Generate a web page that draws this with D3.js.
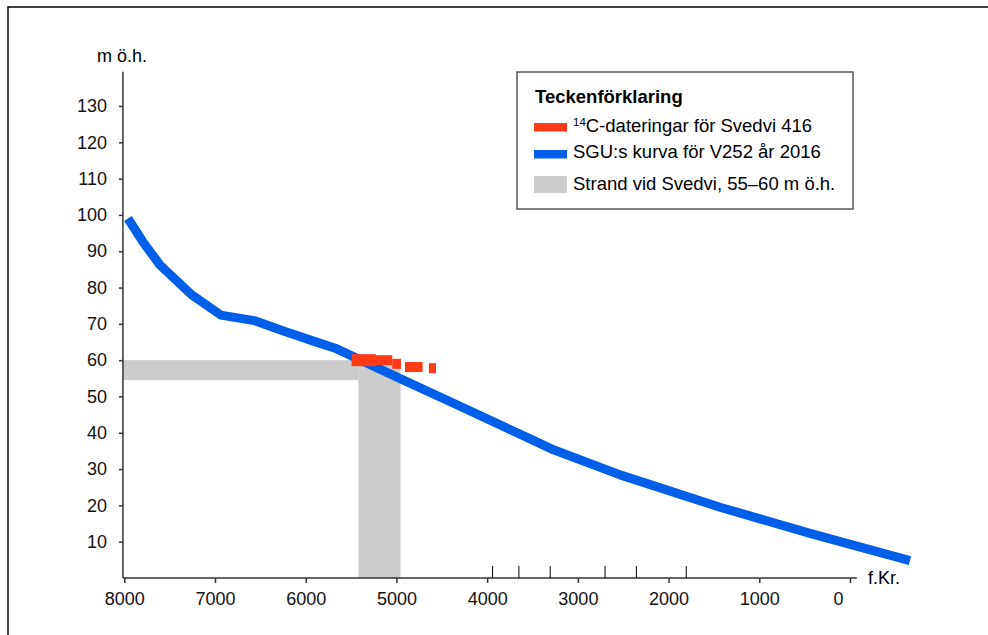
<!DOCTYPE html>
<html>
<head>
<meta charset="utf-8">
<script src="https://cdnjs.cloudflare.com/ajax/libs/d3/7.8.5/d3.min.js"></script>
<style>
  body { margin: 0; background: #fff; }
  svg { font-family: "Liberation Sans", Arial, sans-serif; }
</style>
</head>
<body>
<svg id="chart" width="988" height="635"></svg>
<script>
// SGU:s strandförskjutningskurva (år f.Kr., m ö.h.)
var curveYears  = [7960, 7795, 7607, 7258, 6935, 6568, 6229, 5898, 5675, 4959, 4298, 3526, 3269, 2534, 1433, 441, -661];
var curveLevels = [99, 92.6, 86.2, 78, 72.4, 70.9, 67.9, 65.1, 63.3, 54.9, 47.3, 38.3, 35.3, 28.4, 19.5, 12.3, 4.8];

// 14C-dateringar: start, slut, nivå
var datingFrom  = [5494, 5226, 5046, 4906, 4642];
var datingTo    = [5226, 5046, 4950, 4711, 4564];
var datingLevel = [60.0, 60.0, 59.0, 58.1, 57.8];

// strandzon
var shoreLow = 54.5, shoreHigh = 60;
var shoreFrom = 5420, shoreTo = 4955;

var xTicks = [8000, 7000, 6000, 5000, 4000, 3000, 2000, 1000, 0];
var markerYears = [3940, 3650, 3305, 2700, 2355, 1805];
var yTicks = [10, 20, 30, 40, 50, 60, 70, 80, 90, 100, 110, 120, 130];

var legendLabels = ["C-dateringar för Svedvi 416", "SGU:s kurva för V252 år 2016", "Strand vid Svedvi, 55–60 m ö.h."];

var red = "#ff3a17", blue = "#005fe8", grey = "#cccccc";

var svg = d3.select("#chart");

var x = d3.scaleLinear().domain([8000, 0]).range([124.3, 850]);
var y = d3.scaleLinear().domain([0, 130]).range([578, 106]);

// ram
svg.append("path")
    .attr("d", "M8,635 V7 H988")
    .attr("fill", "none")
    .attr("stroke", "#000")
    .attr("stroke-width", 1.5);

var g = svg.append("g");

// strand
g.append("rect")
    .attr("x", x(8015))
    .attr("y", y(shoreHigh))
    .attr("width", x(shoreFrom) - x(8015))
    .attr("height", y(shoreLow) - y(shoreHigh))
    .attr("fill", grey);

g.append("rect")
    .attr("x", x(shoreFrom))
    .attr("y", y(shoreHigh))
    .attr("width", x(shoreTo) - x(shoreFrom))
    .attr("height", y(0) - y(shoreHigh))
    .attr("fill", grey);

// kurva
var pts = curveYears.map(function(d, i) { return [d, curveLevels[i]]; });
var line = d3.line()
    .x(function(d) { return x(d[0]); })
    .y(function(d) { return y(d[1]); });

g.append("path")
    .datum(pts)
    .attr("d", line)
    .attr("fill", "none")
    .attr("stroke", blue)
    .attr("stroke-width", 9)
    .attr("stroke-linejoin", "round");

// dateringar
g.selectAll(".dating")
    .data(datingFrom)
    .enter().append("line")
    .attr("class", "dating")
    .attr("x1", function(d) { return x(d); })
    .attr("x2", function(d, i) { return x(datingTo[i]); })
    .attr("y1", function(d, i) { return y(datingLevel[i]); })
    .attr("y2", function(d, i) { return y(datingLevel[i]); })
    .attr("stroke", red)
    .attr("stroke-width", function(d, i) { return i == 0 ? 12 : 10; });

// x-axel
var xAxis = g.append("g")
    .attr("transform", "translate(0," + y(0) + ")")
    .call(d3.axisBottom(x).tickValues(xTicks).tickFormat(d3.format("d"))
        .tickSize(5).tickPadding(9).tickSizeOuter(0));
xAxis.select(".domain").attr("d", "M" + x(8015) + ",0H" + x(-75));

// nollan sitter lite till vänster om sitt streck
xAxis.selectAll(".tick text")
    .filter(function(d) { return d === 0; })
    .attr("dx", -12);

xAxis.selectAll(".marker")
    .data(markerYears)
    .enter().append("line")
    .attr("class", "marker")
    .attr("x1", function(d) { return x(d); })
    .attr("x2", function(d) { return x(d); })
    .attr("y1", 0)
    .attr("y2", -12)
    .attr("stroke", "#000");

// y-axel
var yAxis = g.append("g")
    .attr("transform", "translate(" + x(8015) + ",0)")
    .call(d3.axisLeft(y).tickValues(yTicks).tickSize(4).tickPadding(12).tickSizeOuter(0));
yAxis.select(".domain").attr("d", "M0," + y(0) + "V" + y(139.4));

svg.selectAll(".tick text")
    .attr("font-size", 18)
    .attr("font-family", "Liberation Sans, Arial, sans-serif")
    .attr("fill", "#111");
svg.selectAll(".domain, .tick line").attr("stroke", "#333").attr("stroke-width", 1.5);

svg.append("text")
    .attr("x", 122).attr("y", 62)
    .attr("text-anchor", "middle")
    .attr("font-size", 18)
    .text("m ö.h.");

svg.append("text")
    .attr("x", 868).attr("y", 584)
    .attr("font-size", 18)
    .text("f.Kr.");

// teckenförklaring
var leg = svg.append("g");
leg.append("rect")
    .attr("x", 517).attr("y", 72)
    .attr("width", 336).attr("height", 137)
    .attr("fill", "#fff")
    .attr("stroke", "#555")
    .attr("stroke-width", 1.5);

leg.append("text")
    .attr("x", 535).attr("y", 103)
    .attr("font-size", 18.5)
    .attr("font-weight", "bold")
    .text("Teckenförklaring");

leg.append("rect").attr("x", 534).attr("y", 123).attr("width", 33).attr("height", 8.5).attr("fill", red);
leg.append("rect").attr("x", 534).attr("y", 150).attr("width", 33).attr("height", 8.5).attr("fill", blue);
leg.append("rect").attr("x", 534).attr("y", 176).attr("width", 33).attr("height", 17).attr("fill", grey);

var t0 = leg.append("text").attr("x", 573).attr("y", 132).attr("font-size", 18.5);
t0.append("tspan").attr("font-size", 11.5).attr("dy", -6.5).text("14");
t0.append("tspan").attr("dy", 6.5).text(legendLabels[0]);

leg.append("text").attr("x", 573).attr("y", 158).attr("font-size", 18.5).text(legendLabels[1]);
leg.append("text").attr("x", 573).attr("y", 190).attr("font-size", 18.5).text(legendLabels[2]);
</script>
</body>
</html>
